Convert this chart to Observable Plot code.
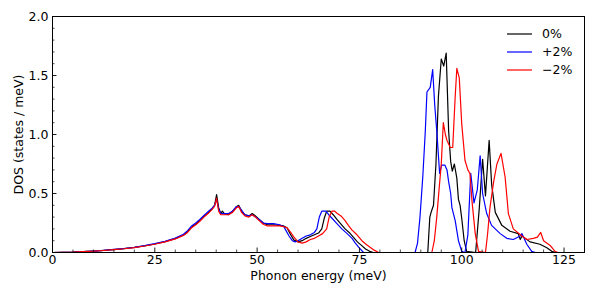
<!DOCTYPE html>
<html><head><meta charset="utf-8">
<script src="https://cdn.jsdelivr.net/npm/d3@7"></script>
<script src="https://cdn.jsdelivr.net/npm/@observablehq/plot@0.6"></script>
<style>body{margin:0;background:#fff;} svg{display:block;}</style>
</head><body><div id="chart"></div>
<script>
const seriesNames = ["0%", "+2%", "\u22122%"];
const seriesColors = ["black", "blue", "red"];

const energy0 = [0, 2.5, 5, 7.5, 10, 12.5, 15, 17.5, 20, 22.5, 25, 27.5, 30, 32, 33, 34, 35, 36, 37, 38, 39, 39.6, 40.1, 40.6, 41.1, 41.5, 42, 43, 44, 45, 45.5, 46.2, 47, 48, 48.8, 49.6, 50.5, 51.5, 52.5, 54, 55.5, 56.5, 57.3, 58.2, 59, 60, 61, 62, 63, 64, 65, 65.8, 66.4, 67, 67.8, 68.6, 69.5, 70.5, 71.5, 72.5, 73.5, 74.5, 75.5, 76.5, 77.5, 78.4, 85, 91.7, 92.2, 92.6, 93.1, 93.7, 94.3, 95, 95.6, 96.2, 96.8, 97.3, 97.7, 98.2, 98.8, 99.2, 99.6, 100, 100.6, 101.2, 103.4, 104.3, 105.1, 105.8, 106.7, 107.3, 108.2, 109.8, 111.8, 113.8, 114.3, 114.7, 116.7, 119.1, 120.8, 122, 123, 125];
const dos0 = [0, 0.001, 0.003, 0.007, 0.012, 0.018, 0.025, 0.033, 0.043, 0.056, 0.072, 0.092, 0.118, 0.148, 0.175, 0.215, 0.24, 0.27, 0.305, 0.335, 0.37, 0.40, 0.49, 0.38, 0.33, 0.35, 0.33, 0.32, 0.35, 0.39, 0.40, 0.35, 0.32, 0.31, 0.33, 0.31, 0.28, 0.25, 0.235, 0.235, 0.23, 0.225, 0.21, 0.15, 0.105, 0.09, 0.10, 0.12, 0.135, 0.15, 0.165, 0.20, 0.29, 0.35, 0.35, 0.32, 0.28, 0.24, 0.20, 0.17, 0.13, 0.09, 0.06, 0.03, 0.01, 0, 0, 0, 0.30, 0.35, 0.40, 0.75, 1.32, 1.64, 1.58, 1.69, 1.03, 0.77, 0.69, 0.75, 0.63, 0.45, 0.40, 0.29, 0.10, 0.01, 0, 0.38, 0.79, 0.48, 0.95, 0.58, 0.34, 0.23, 0.18, 0.16, 0.11, 0.14, 0.09, 0.07, 0.04, 0.01, 0, 0];

const energy1 = [0, 2.5, 5, 7.5, 10, 12.5, 15, 17.5, 20, 22.5, 25, 27.5, 30, 32, 33, 34, 35, 36, 37, 38, 39, 39.6, 40.1, 40.6, 41.1, 42, 43, 44, 45, 45.5, 46.2, 47, 48, 48.8, 49.6, 50.5, 51.5, 52.5, 54, 55.5, 56.5, 57, 57.8, 58.6, 59.3, 60, 61, 62, 63, 64, 64.6, 65.2, 65.8, 66.8, 67.5, 68.3, 69.5, 70.7, 72, 73.2, 74, 74.8, 76, 85, 88.6, 89.2, 89.8, 90.5, 91.1, 91.5, 92.3, 92.9, 93.4, 93.9, 94.6, 95.1, 95.9, 96.4, 96.8, 97.3, 97.6, 98.4, 99.2, 100, 100.8, 101.5, 102.2, 103, 103.8, 104.5, 105.1, 106.1, 107.3, 109.4, 111, 112.6, 114.3, 114.7, 115.9, 117.1, 118, 125];
const dos1 = [0, 0.001, 0.003, 0.007, 0.012, 0.018, 0.026, 0.034, 0.044, 0.058, 0.075, 0.095, 0.122, 0.155, 0.185, 0.225, 0.25, 0.28, 0.315, 0.345, 0.375, 0.40, 0.45, 0.37, 0.33, 0.33, 0.33, 0.35, 0.39, 0.39, 0.36, 0.32, 0.31, 0.32, 0.30, 0.28, 0.25, 0.245, 0.245, 0.235, 0.22, 0.19, 0.14, 0.10, 0.09, 0.10, 0.12, 0.14, 0.15, 0.17, 0.20, 0.30, 0.35, 0.35, 0.32, 0.29, 0.245, 0.20, 0.16, 0.12, 0.08, 0.045, 0, 0, 0, 0.08, 0.30, 0.65, 1.03, 1.36, 1.40, 1.55, 1.25, 1.03, 0.67, 0.74, 0.74, 0.70, 0.60, 0.50, 0.38, 0.27, 0.10, 0.01, 0, 0.15, 0.67, 0.42, 0.53, 0.82, 0.50, 0.33, 0.23, 0.16, 0.12, 0.11, 0.14, 0.16, 0.07, 0.01, 0, 0];

const energy2 = [0, 2.5, 5, 7.5, 10, 12.5, 15, 17.5, 20, 22.5, 25, 27.5, 30, 32, 33, 34, 35, 36, 37, 38, 39, 39.6, 40.1, 40.6, 41.1, 42, 43, 44, 45, 45.5, 46.2, 47, 48, 48.8, 49.6, 50.5, 51.5, 52.5, 54, 55.5, 56.5, 57.3, 58.2, 59, 60, 61, 62, 63, 64, 65, 66, 67, 67.6, 68.3, 69, 69.6, 70.5, 71.5, 72.3, 73.2, 74.4, 75.6, 76.6, 77.6, 78.6, 79.7, 85, 92.7, 93.3, 93.9, 94.5, 95, 95.5, 96, 96.4, 97.2, 97.8, 98.4, 98.8, 99.4, 100, 100.8, 101.5, 102, 102.5, 103.3, 104.1, 105.8, 106.3, 106.9, 107.8, 108.6, 109.6, 110.6, 111.4, 112.6, 114.7, 115.9, 117.5, 118.5, 119.3, 120, 121.6, 122.8, 123.5, 125];
const dos2 = [0, 0.001, 0.003, 0.007, 0.011, 0.017, 0.024, 0.032, 0.042, 0.055, 0.07, 0.09, 0.115, 0.145, 0.17, 0.21, 0.235, 0.265, 0.30, 0.33, 0.365, 0.39, 0.46, 0.35, 0.32, 0.32, 0.32, 0.34, 0.38, 0.39, 0.34, 0.31, 0.30, 0.32, 0.30, 0.27, 0.24, 0.225, 0.225, 0.225, 0.22, 0.21, 0.17, 0.13, 0.09, 0.08, 0.09, 0.11, 0.12, 0.14, 0.16, 0.20, 0.30, 0.35, 0.35, 0.33, 0.31, 0.27, 0.23, 0.19, 0.15, 0.10, 0.07, 0.045, 0.02, 0, 0, 0, 0.10, 0.30, 0.55, 0.75, 1.10, 1.00, 0.95, 0.89, 0.89, 1.32, 1.56, 1.48, 1.09, 0.78, 0.70, 0.67, 0.44, 0.16, 0.01, 0, 0.15, 0.38, 0.60, 0.75, 0.84, 0.64, 0.33, 0.20, 0.14, 0.11, 0.12, 0.13, 0.17, 0.10, 0.06, 0.01, 0, 0];

const xTickValues = [0, 25, 50, 75, 100, 125];
const xTickLabels = ["0", "25", "50", "75", "100", "125"];
const xMinorTickValues = [5, 10, 15, 20, 30, 35, 40, 45, 55, 60, 65, 70, 80, 85, 90, 95, 105, 110, 115, 120, 130];
const yTickValues = [0, 0.5, 1, 1.5, 2];
const yTickLabels = ["0.0", "0.5", "1.0", "1.5", "2.0"];
const yMinorTickValues = [0.1, 0.2, 0.3, 0.4, 0.6, 0.7, 0.8, 0.9, 1.1, 1.2, 1.3, 1.4, 1.6, 1.7, 1.8, 1.9];
const xLabel = "Phonon energy (meV)";
const yLabel = "DOS (states / meV)";

const rows = [];
[[energy0, dos0], [energy1, dos1], [energy2, dos2]].forEach(([e, d], i) => {
  e.forEach((x, j) => rows.push({series: seriesNames[i], energy: x, dos: d[j]}));
});

const W = 595, H = 298, mt = 16, mb = 46, ml = 52, mr = 11;
const innerH = H - mt - mb, innerW = W - ml - mr;
const FS = 12.5;

const svg = Plot.plot({
  width: W, height: H,
  marginTop: mt, marginBottom: mb, marginLeft: ml, marginRight: mr,
  x: {domain: [0, 130]},
  y: {domain: [0, 2]},
  color: {domain: seriesNames, range: seriesColors},
  style: {fontFamily: "DejaVu Sans", fontSize: FS + "px", background: "white", color: "black", overflow: "visible"},
  marks: [
    Plot.line(rows, {x: "energy", y: "dos", z: "series", stroke: "series", strokeWidth: 1.2}),
    Plot.frame({stroke: "black", strokeWidth: 1}),
    Plot.tickX(xTickValues, {x: d => d, insetTop: innerH - 4.5, stroke: "black", strokeWidth: 0.9}),
    Plot.tickX(xMinorTickValues, {x: d => d, insetTop: innerH - 2.5, stroke: "black", strokeWidth: 0.7}),
    Plot.tickY(yTickValues, {y: d => d, insetRight: innerW - 4.5, stroke: "black", strokeWidth: 0.9}),
    Plot.tickY(yMinorTickValues, {y: d => d, insetRight: innerW - 2.5, stroke: "black", strokeWidth: 0.7}),
    Plot.axisX(xTickValues, {tickSize: 0, tickPadding: 3, label: null, fontSize: FS, tickFormat: d => xTickLabels[xTickValues.indexOf(d)]}),
    Plot.axisY(yTickValues, {tickSize: 0, tickPadding: 4, label: null, fontSize: FS, tickFormat: d => yTickLabels[yTickValues.indexOf(d)]}),
    Plot.text([xLabel], {frameAnchor: "bottom", textAnchor: "middle", dy: 27, fontSize: FS, fill: "black"}),
    Plot.text([yLabel], {frameAnchor: "left", textAnchor: "middle", dx: -34, rotate: -90, fontSize: FS, fill: "black"})
  ]
});

const legend = d3.select(svg).append("g")
  .attr("font-size", FS).attr("font-family", "DejaVu Sans").attr("text-anchor", "start");
seriesNames.forEach((name, i) => {
  const y = 34 + 18 * i;
  legend.append("line").attr("x1", 507).attr("x2", 532).attr("y1", y).attr("y2", y)
    .attr("stroke", seriesColors[i]).attr("stroke-width", 1.2);
  legend.append("text").attr("x", 542).attr("y", y).attr("dy", "0.35em").attr("fill", "black").text(name);
});

document.getElementById("chart").appendChild(svg);
</script>
</body></html>
